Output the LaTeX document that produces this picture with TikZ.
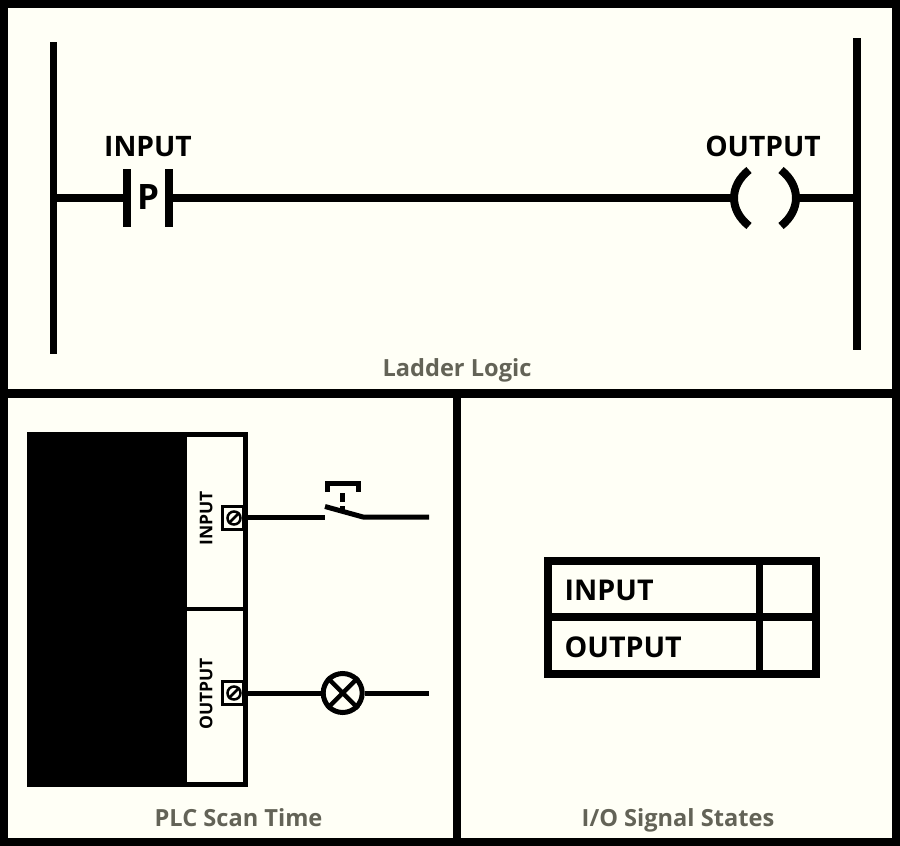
\documentclass[tikz,border=0pt]{standalone}
\usepackage{fontspec}
\setmainfont{Open Sans}
\definecolor{panelbg}{HTML}{FFFFF6}
\definecolor{capcol}{HTML}{636357}
\tikzset{
  panel/.style={fill=panelbg,draw=none},
  wire/.style={line width=#1,line cap=butt},
  wire/.default=6pt,
  lbl/.style={inner sep=0pt,anchor=base,font=\bfseries\fontsize{#1}{#1}\selectfont,text=black},
  caption/.style={inner sep=0pt,anchor=base,font=\bfseries\fontsize{23.6}{23.6}\selectfont,text=capcol},
  plate/.style={fill=black,draw=none,minimum width=8pt,minimum height=58pt,inner sep=0pt},
  termbox/.style={draw=black,line width=2.5pt,fill=panelbg,minimum width=21pt,minimum height=23pt,inner sep=0pt},
  screw/.style={circle,draw=black,line width=2.5pt,minimum size=13pt,inner sep=0pt},
  cell/.style={draw=black,line width=7.5pt,fill=panelbg,inner sep=0pt},
}
\begin{document}
\begin{tikzpicture}[x=1pt,y=-1pt]
\useasboundingbox (0,0) rectangle (900,846);
\fill[black] (0,0) rectangle (900,846);
\fill[panel] (8,8) rectangle (892,389);
\fill[panel] (8,398) rectangle (453,838);
\fill[panel] (461,398) rectangle (892,838);
% Ladder logic
\coordinate (railLt) at (53,42); \coordinate (railLb) at (53,354);
\coordinate (railRt) at (857,38); \coordinate (railRb) at (857,350);
\coordinate (rungL) at (53,198); \coordinate (rungR) at (857,198);
\draw[wire=7pt] (railLt) -- (railLb);
\draw[wire=7.5pt] (railRt) -- (railRb);
\node[plate] (pl1) at (127,198) {};
\node[plate] (pl2) at (169,198) {};
\node[lbl=35] (pchar) at (148,209.5) {P};
\node[lbl=28.2] (intxt) at (148,156) {INPUT};
\node[lbl=28.2] (outtxt) at (763,156) {OUTPUT};
\coordinate (coilL) at (733,198); \coordinate (coilR) at (797,198);
\draw[wire=7.5pt] (rungL) -- (pl1);
\draw[wire=7.5pt] (pl2) -- (coilL);
\draw[wire=7.5pt] (coilR) -- (rungR);
\draw[line width=8pt] (749,170) .. controls (729,186) and (729,210) .. (749,226);
\draw[line width=8pt] (781,170) .. controls (801,186) and (801,210) .. (781,226);
\node[caption] (cap1) at (457,376) {Ladder Logic};
% PLC
\draw[black,line width=5pt,fill=panelbg] (29,434) rectangle (245.5,784.5);
\fill[black] (27,432) rectangle (187,787);
\draw[black,line width=4pt] (187,609) -- (245,609);
\node[termbox] (t1) at (233,518) {};
\node[termbox] (t2) at (233,693) {};
\node[screw] (s1) at (234,518) {};
\node[screw] (s2) at (234,693) {};
\draw[line width=2.5pt] (s1.45) -- (s1.225);
\draw[line width=2.5pt] (s2.45) -- (s2.225);
\draw[black,line width=5pt] (245.5,434) -- (245.5,784.5);
\node[lbl=17.5,rotate=90] (r1) at (212.3,518.5) {INPUT};
\node[lbl=17.5,rotate=90] (r2) at (212.3,694) {OUTPUT};
\coordinate (w1a) at (245,517); \coordinate (w1b) at (325,517);
\coordinate (w1c) at (363,517); \coordinate (w1d) at (429,517);
\coordinate (w1s) at (325,506.5);
\draw[wire=5pt] (w1a) -- (w1b);
\draw[wire=5pt,line join=round] (w1s) -- (w1c) -- (w1d);
\draw[line width=5pt] (327,492) -- (327,483.5) -- (358,483.5) -- (358,492);
\draw[line width=5pt] (342,493) -- (342,502);
\draw[line width=5pt] (342,506) -- (342,511);
\node[circle,draw=black,line width=5pt,minimum size=39pt,inner sep=0pt] (lamp) at (342.7,693) {};
\draw[line width=4.5pt] (lamp.45) -- (lamp.225);
\draw[line width=4.5pt] (lamp.135) -- (lamp.315);
\coordinate (w2a) at (245,693); \coordinate (w2b) at (429,693);
\draw[wire=5pt] (w2a) -- (lamp);
\draw[wire=5pt] (lamp) -- (w2b);
\node[caption] (cap2) at (238.5,826.5) {PLC Scan Time};
% Table
\node[cell,minimum width=211.5pt,minimum height=56pt] (c11) at (653.75,589) {};
\node[cell,minimum width=56.5pt,minimum height=56pt] (c12) at (787.75,589) {};
\node[cell,minimum width=211.5pt,minimum height=57pt] (c21) at (653.75,645.5) {};
\node[cell,minimum width=56.5pt,minimum height=57pt] (c22) at (787.75,645.5) {};
\node[lbl=28.6,anchor=base west] (ti) at (564.5,600) {INPUT};
\node[lbl=28.6,anchor=base west] (to) at (564.5,657) {OUTPUT};
\node[caption] (cap3) at (678,826.5) {I/O Signal States};
\end{tikzpicture}
\end{document}
